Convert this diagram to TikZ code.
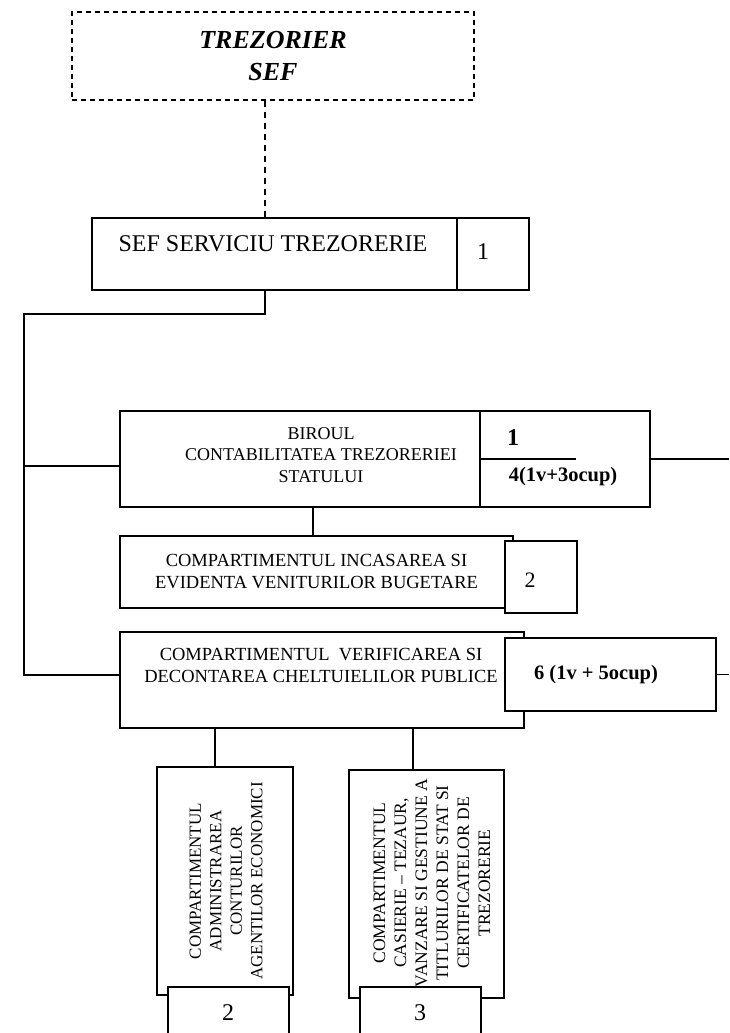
\documentclass[tikz,border=0pt]{standalone}
\usepackage{fontspec}
\setmainfont{Liberation Serif}
\usepackage{tikz}
\usetikzlibrary{positioning}

\begin{document}
\begin{tikzpicture}[
        x=1pt, y=-1pt,
        box/.style={draw, line width=1.1pt, fill=white, inner sep=0pt},
        txt/.style={inner sep=0pt, align=center},
        edge/.style={line width=1.1pt},
        every node/.style={font=\fontsize{18.5}{22}\selectfont}
    ]
        \useasboundingbox (0,0) rectangle (729,1033);

        % Nodes
        \node[box, dashed, dash pattern=on 5pt off 4pt, minimum width=402, minimum height=88, align=center, font=\fontsize{26}{32}\selectfont\bfseries\itshape] (trez) at (273,56) {TREZORIER\\SEF};

        \node[box, minimum width=365, minimum height=72] (sef) at (274.5,254) {};
        \node[txt, font=\fontsize{24}{28}\selectfont] (sef_txt) at (273,244) {SEF SERVICIU TREZORERIE};
        \node[box, minimum width=72, minimum height=72] (sef_nr) at (493,254) {};
        \node[txt, font=\fontsize{24}{28}\selectfont] (sef_nr_txt) at (483,252) {1};

        \node[box, minimum width=360, minimum height=96] (birou) at (300,459) {};
        \node[txt, font=\fontsize{18}{21.5}\selectfont] (birou_txt) at (321,455) {BIROUL\\CONTABILITATEA TREZORERIEI\\STATULUI};
        \node[box, minimum width=170, minimum height=96] (birou_nr) at (565,459) {};
        \node[txt, font=\fontsize{24}{28}\selectfont\bfseries] (birou_sef) at (513,438) {1};
        \node[txt, font=\fontsize{20.5}{24}\selectfont\bfseries] (birou_pers) at (563,477) {4(1v+3ocup)};

        \node[box, minimum width=393, minimum height=72, align=center] (incas) at (316.5,572) {COMPARTIMENTUL INCASAREA SI\\EVIDENTA VENITURILOR BUGETARE};
        \node[box, minimum width=72, minimum height=72] (incas_nr) at (541,577) {};
        \node[txt, font=\fontsize{22}{26}\selectfont] (incas_nr_txt) at (530,580) {2};

        \node[box, minimum width=404, minimum height=96] (verif) at (322,680) {};
        \node[txt] (verif_txt) at (321,665) {COMPARTIMENTUL~ VERIFICAREA SI\\DECONTAREA CHELTUIELILOR PUBLICE};
        \node[box, minimum width=211, minimum height=73] (verif_nr) at (610.5,674.5) {};
        \node[txt, font=\fontsize{20.5}{24}\selectfont\bfseries] (verif_pers) at (596,675) {6 (1v + 5ocup)};

        \node[box, minimum width=136, minimum height=228] (agent) at (225,881) {};
        \node[txt, rotate=90, font=\fontsize{17}{20.5}\selectfont] (agent_txt) at (226,881) {COMPARTIMENTUL\\ADMINISTRAREA\\CONTURILOR\\AGENTILOR ECONOMICI};
        \node[box, minimum width=121, minimum height=60] (agent_nr) at (228.5,1017) {};
        \node[txt, font=\fontsize{24}{28}\selectfont] (agent_nr_txt) at (228,1013) {2};

        \node[box, minimum width=155, minimum height=228] (casier) at (426.5,884) {};
        \node[txt, rotate=90, font=\fontsize{17.5}{21}\selectfont] (casier_txt) at (432,883) {COMPARTIMENTUL\\CASIERIE – TEZAUR,\\VANZARE SI GESTIUNE A\\TITLURILOR DE STAT SI\\CERTIFICATELOR DE\\TREZORERIE};
        \node[box, minimum width=121, minimum height=60] (casier_nr) at (420.5,1017) {};
        \node[txt, font=\fontsize{24}{28}\selectfont] (casier_nr_txt) at (420,1013) {3};

        % Edges
        \coordinate (bend_top) at (24,314);
        \coordinate (bend_low) at (24,675);
        \coordinate (edge_r) at (729,459);
        \coordinate (birou_in) at ([yshift=-7pt]birou.west);

        \draw[edge, dashed, dash pattern=on 6pt off 5pt] ([xshift=-8pt]trez.south) -- ([xshift=-8pt]trez.south |- sef.north);
        \draw[edge] ([xshift=-9.5pt]sef.south) |- (bend_top) -- (bend_low) -- (verif.west |- bend_low);
        \draw[edge] (birou_in -| bend_top) -- (birou_in);
        \draw[edge] ([xshift=13pt]birou.south) -- ([xshift=13pt]birou.south |- incas.north);
        \draw[edge] (birou_nr.west) -- ([xshift=97pt]birou_nr.west);
        \draw[edge] (birou_nr.east) -- (edge_r);
        \draw[edge] (verif_nr.east) -- (verif_nr.east -| edge_r);
        \draw[edge] ([xshift=-10pt]agent.north) -- ([xshift=-10pt]agent.north |- verif.south);
        \draw[edge] ([xshift=-13.5pt]casier.north) -- ([xshift=-13.5pt]casier.north |- verif.south);

    \end{tikzpicture}
\end{document}
